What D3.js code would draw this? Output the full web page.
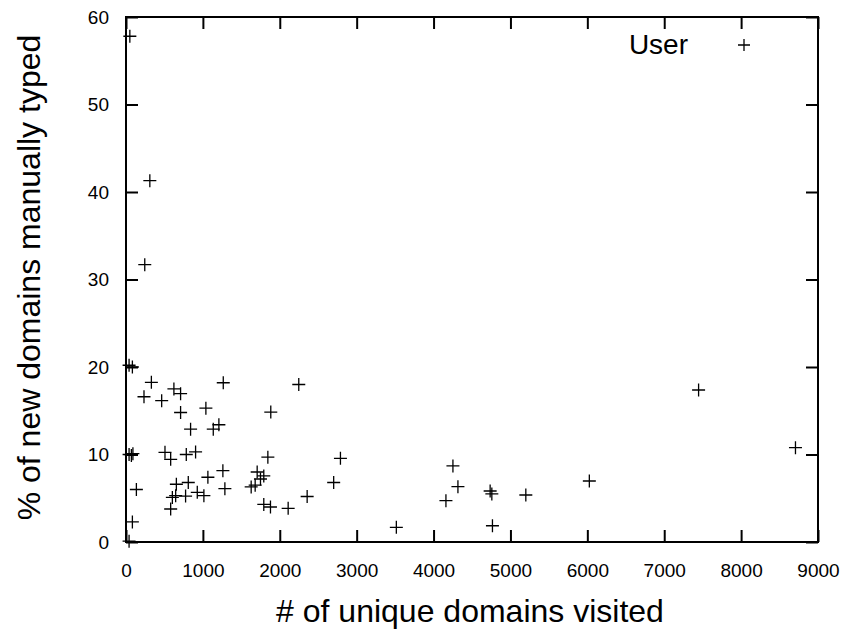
<!DOCTYPE html>
<html>
<head>
<meta charset="utf-8">
<script src="https://cdn.jsdelivr.net/npm/d3@7"></script>
<style>
  body { margin: 0; background: #fff; }
  svg text { font-family: "Liberation Sans", Arial, sans-serif; fill: #000; }
</style>
</head>
<body>
<div id="chart"></div>
<script>
// unique domains visited per user
const domains = [50, 310, 244, 40, 83, 330, 234, 464, 623, 710, 710, 1039, 1265, 840, 1135, 1208,
  1883, 2247, 40, 70, 90, 507, 581, 784, 905, 1845, 2789, 135, 83, 40, 655, 810, 603, 646, 775,
  581, 927, 1013, 1065, 1260, 1286, 1706, 1749, 1792, 1628, 1680, 1792, 1879, 2109, 2356, 2701,
  3516, 4252, 4317, 4161, 4736, 4758, 4766, 5200, 6026, 7447, 8707];
// % of new domains manually typed
const typed = [57.8, 41.3, 31.7, 20.2, 20.0, 18.25, 16.6, 16.15, 17.5, 16.95, 14.8, 15.3, 18.2, 12.9, 12.9, 13.4,
  14.85, 18.0, 10.0, 9.9, 10.1, 10.25, 9.45, 10.0, 10.3, 9.7, 9.56, 6.0, 2.3, 0.1, 6.6, 6.8, 5.1, 5.3, 5.25,
  3.77, 5.68, 5.3, 7.4, 8.15, 6.1, 8.0, 7.2, 7.55, 6.3, 6.5, 4.3, 4.0, 3.85, 5.2, 6.8,
  1.68, 8.69, 6.32, 4.72, 5.83, 5.49, 1.86, 5.37, 6.97, 17.37, 10.78];
const xTicks = [0, 1000, 2000, 3000, 4000, 5000, 6000, 7000, 8000, 9000];
const yTicks = [0, 10, 20, 30, 40, 50, 60];
const seriesName = "User";

const width = 845, height = 631;
const margin = {top: 17, right: 27, bottom: 89, left: 126};

const svg = d3.select('#chart')
  .append('svg')
  .attr('width', width)
  .attr('height', height);

const x = d3.scaleLinear().domain([0, 9000]).range([margin.left, width - margin.right]);
const y = d3.scaleLinear().domain([0, 60]).range([height - margin.bottom, margin.top]);

const tickLen = 12;

// ticks (mirrored, inward like gnuplot)
const xAxisB = d3.axisBottom(x).tickValues(xTicks).tickSize(-tickLen).tickPadding(22).tickFormat(d3.format('d'));
const xAxisT = d3.axisTop(x).tickValues(xTicks).tickSize(-tickLen).tickFormat('');
const yAxisL = d3.axisLeft(y).tickValues(yTicks).tickSize(-tickLen).tickPadding(17).tickFormat(d3.format('d'));
const yAxisR = d3.axisRight(y).tickValues(yTicks).tickSize(-tickLen).tickFormat('');

function styleAxis(g) {
  g.select('.domain').remove();
  g.selectAll('.tick line').attr('stroke', '#000').attr('stroke-width', 2);
  g.selectAll('.tick text').style('font-size', '19px');
}

svg.append('g').attr('transform', `translate(0,${y(0)})`).call(xAxisB).call(styleAxis);
svg.append('g').attr('transform', `translate(0,${y(60)})`).call(xAxisT).call(styleAxis);
svg.append('g').attr('transform', `translate(${x(0)},0)`).call(yAxisL).call(styleAxis);
svg.append('g').attr('transform', `translate(${x(9000)},0)`).call(yAxisR).call(styleAxis);

// frame
svg.append('rect')
  .attr('x', x(0))
  .attr('y', y(60))
  .attr('width', x(9000) - x(0))
  .attr('height', y(0) - y(60))
  .attr('fill', 'none')
  .attr('stroke', '#000')
  .attr('stroke-width', 2);

// points as + marks
const data = domains.map((d, i) => ({x: d, y: typed[i]}));
const s = 6.5;
svg.append('g')
  .selectAll('path')
  .data(data)
  .enter()
    .append('path')
    .attr('d', d => `M${x(d.x) - s},${y(d.y)}H${x(d.x) + s}M${x(d.x)},${y(d.y) - s}V${y(d.y) + s}`)
    .attr('stroke', '#000')
    .attr('stroke-width', 1.3)
    .attr('fill', 'none');

// legend
svg.append('text')
  .attr('x', 688)
  .attr('y', 54)
  .attr('text-anchor', 'end')
  .style('font-size', '28px')
  .text(seriesName);
svg.append('path')
  .attr('d', `M${744 - 6},45H${744 + 6}M744,${45 - 6}V${45 + 6}`)
  .attr('stroke', '#000')
  .attr('stroke-width', 1.3);

// axis titles
svg.append('text')
  .attr('x', 470)
  .attr('y', 622)
  .attr('text-anchor', 'middle')
  .style('font-size', '32px')
  .text('# of unique domains visited');

svg.append('text')
  .attr('transform', `translate(40,${(y(0) + y(60)) / 2 - 2}) rotate(-90)`)
  .attr('text-anchor', 'middle')
  .style('font-size', '32px')
  .text('% of new domains manually typed');
</script>
</body>
</html>
